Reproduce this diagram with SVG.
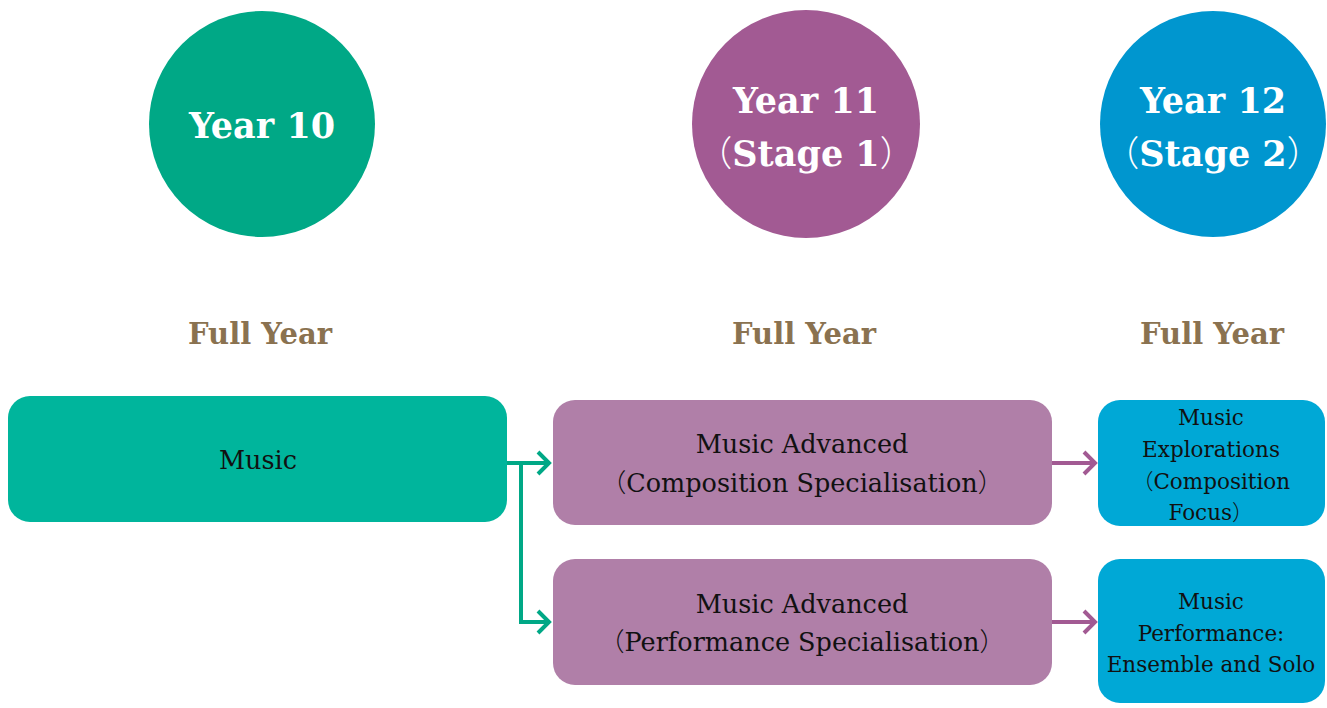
<svg xmlns="http://www.w3.org/2000/svg" width="1327" height="708" viewBox="0 0 1327 708">
<style>
.ct{font-family:"DejaVu Serif","Liberation Serif","Noto Sans CJK SC",serif;font-weight:bold;font-size:35px;fill:#fff;text-anchor:middle}
.fy{font-family:"DejaVu Serif","Liberation Serif",serif;font-weight:bold;font-size:29px;fill:#8a7250;text-anchor:middle}
.bt{font-family:"DejaVu Serif","Noto Sans CJK SC",serif;font-size:25.5px;fill:#111;text-anchor:middle}
.st{font-family:"DejaVu Serif","Noto Sans CJK SC",serif;font-size:21.5px;fill:#111;text-anchor:middle}
.p{font-family:"Noto Sans CJK SC",sans-serif;font-weight:300}
.cg{fill:none;stroke:#00a886;stroke-width:4}
.cp{fill:none;stroke:#a25a93;stroke-width:4}
</style>
<defs>
<marker id="ag" markerWidth="16" markerHeight="26" refX="13" refY="13" orient="auto" markerUnits="userSpaceOnUse"><path d="M2,2 L13,13 L2,24" fill="none" stroke="#00a886" stroke-width="4"/></marker>
<marker id="ap" markerWidth="16" markerHeight="26" refX="13" refY="13" orient="auto" markerUnits="userSpaceOnUse"><path d="M2,2 L13,13 L2,24" fill="none" stroke="#a25a93" stroke-width="4"/></marker>
</defs>
<g id="y10"><circle cx="262" cy="124" r="113" fill="#00a886"/><text class="ct" x="262" y="138">Year 10</text></g>
<g id="y11"><circle cx="806" cy="124" r="114" fill="#a25a93"/><text class="ct" x="806" y="113">Year 11</text><text class="ct" x="806" y="166"><tspan class="p">（</tspan>Stage 1<tspan class="p">）</tspan></text></g>
<g id="y12"><circle cx="1213" cy="124" r="113" fill="#0096cf"/><text class="ct" x="1213" y="113">Year 12</text><text class="ct" x="1213" y="166"><tspan class="p">（</tspan>Stage 2<tspan class="p">）</tspan></text></g>
<g id="fy1"><text class="fy" x="260" y="344">Full Year</text></g>
<g id="fy2"><text class="fy" x="804" y="344">Full Year</text></g>
<g id="fy3"><text class="fy" x="1212" y="344">Full Year</text></g>
<g id="music"><rect x="8" y="396" width="499" height="126" rx="22" fill="#00b59c"/><text class="bt" x="258" y="469">Music</text></g>
<g id="mac"><rect x="553" y="400" width="499" height="125" rx="22" fill="#b07fa8"/><text class="bt" x="802" y="453">Music Advanced</text><text class="bt" x="802" y="492"><tspan class="p">（</tspan>Composition Specialisation<tspan class="p">）</tspan></text></g>
<g id="map"><rect x="553" y="559" width="499" height="126" rx="22" fill="#b07fa8"/><text class="bt" x="802" y="613">Music Advanced</text><text class="bt" x="802" y="651"><tspan class="p">（</tspan>Performance Specialisation<tspan class="p">）</tspan></text></g>
<g id="mex"><rect x="1098" y="400" width="227" height="126" rx="22" fill="#00a8d6"/><text class="st" x="1211" y="425">Music</text><text class="st" x="1211" y="457">Explorations</text><text class="st" x="1211" y="489"><tspan class="p">（</tspan>Composition</text><text class="st" x="1211" y="520">Focus<tspan class="p">）</tspan></text></g>
<g id="mpe"><rect x="1098" y="559" width="227" height="144" rx="22" fill="#00a8d6"/><text class="st" x="1211" y="609">Music</text><text class="st" x="1211" y="641">Performance:</text><text class="st" x="1211" y="672">Ensemble and Solo</text></g>
<g id="connectors">
<path class="cg" d="M507,463 H549" marker-end="url(#ag)"/>
<path class="cg" d="M521,463 V622 H549" marker-end="url(#ag)"/>
<path class="cp" d="M1052,463 H1095" marker-end="url(#ap)"/>
<path class="cp" d="M1052,622 H1095" marker-end="url(#ap)"/>
</g>
</svg>
